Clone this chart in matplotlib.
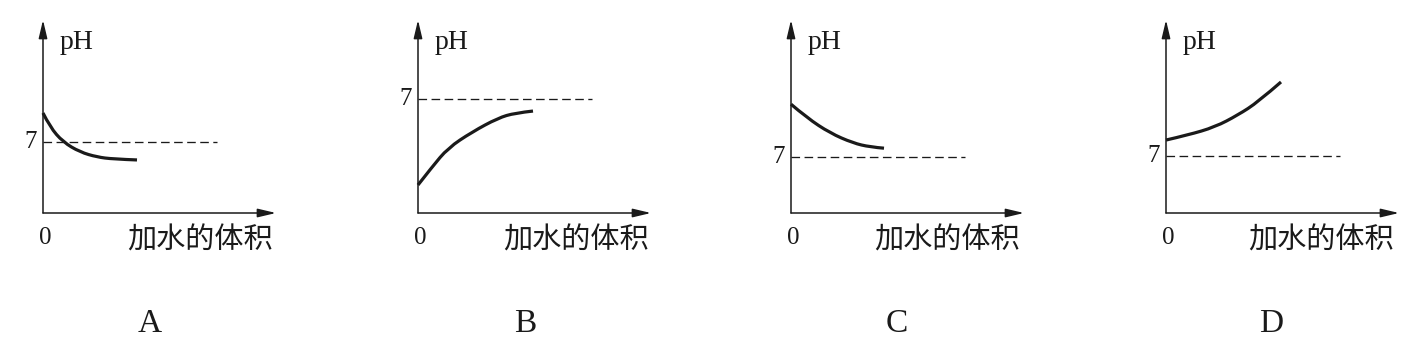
import matplotlib
matplotlib.use("Agg")
import matplotlib.pyplot as plt
from matplotlib.path import Path
from matplotlib.patches import PathPatch

# ---- data (volume of water added, pH) ----
panel_labels = ["A", "B", "C", "D"]
x_label = "加水的体积"
y_label = "pH"
neutral_ph = 7

vol_A = [0, 0.7, 2.0, 3.7, 5.4, 7.0, 9.4]
ph_A = [9.86, 8.48, 7.0, 6.01, 5.52, 5.32, 5.23]

vol_B = [0, 1.4, 3.0, 5.4, 8.0, 9.7, 11.5]
ph_B = [1.72, 2.82, 3.99, 4.97, 5.83, 6.14, 6.26]

vol_C = [0, 1.6, 3.9, 6.2, 7.9, 9.3]
ph_C = [13.6, 11.9, 10.0, 8.75, 8.25, 8.1]

vol_D = [0, 2.2, 4.9, 7.2, 9.2, 11.5]
ph_D = [8.96, 9.58, 10.56, 12.04, 13.63, 16.09]

dash_end = 17.4      # volume at which the dashed pH=7 line stops
x_axis_max = 23.3    # length of the horizontal axis (volume units)

# ---- layout ----
W, H = 1426, 343
fig = plt.figure(figsize=(W / 100, H / 100), dpi=100)
fig.patch.set_facecolor("white")

ink = "#1a1a1a"
serif = ["Liberation Serif", "DejaVu Serif"]
cjk = ["Noto Sans CJK SC", "DejaVu Sans"]

origins = [43, 418, 791, 1166]
axis_y = 213
axis_top = 20
seven_px = [71, 114, 56, 57]
letter_x = [150, 525, 897, 1271]
cjk_left = [127, 503, 874, 1248]

vols = [vol_A, vol_B, vol_C, vol_D]
phs = [ph_A, ph_B, ph_C, ph_D]

ax_w_px = 233
ax_h_px = axis_y - axis_top


def fx(x):
    return x / W


def fy(y):
    return 1 - y / H


def smooth_path(xs, ys):
    """Quadratic-Bezier path through the read points (library curve)."""
    pts = list(zip(xs, ys))
    verts = [pts[0]]
    codes = [Path.MOVETO]
    n = len(pts)
    for k in range(1, n - 1):
        ctrl = pts[k]
        if k < n - 2:
            end = ((pts[k][0] + pts[k + 1][0]) / 2, (pts[k][1] + pts[k + 1][1]) / 2)
        else:
            end = pts[k + 1]
        verts += [ctrl, end]
        codes += [Path.CURVE3, Path.CURVE3]
    return Path(verts, codes)


for i in range(4):
    ox = origins[i]
    ax = fig.add_axes([fx(ox), fy(axis_y), ax_w_px / W, ax_h_px / H])
    ax.axis("off")
    ytop = ax_h_px * neutral_ph / seven_px[i]
    ax.set_xlim(0, x_axis_max)
    ax.set_ylim(0, ytop)

    arrow = dict(arrowstyle="-|>,head_length=1.1,head_width=0.26",
                 mutation_scale=10, lw=1.1, color=ink,
                 shrinkA=0, shrinkB=0)
    ax.annotate("", xy=(x_axis_max, 0), xytext=(0, 0),
                arrowprops=arrow, annotation_clip=False)
    ax.annotate("", xy=(0, ytop), xytext=(0, 0),
                arrowprops=arrow, annotation_clip=False)

    ax.plot([0, dash_end], [neutral_ph, neutral_ph], color=ink, lw=0.95,
            linestyle=(0, (6.5, 3.4)), clip_on=False)
    ax.add_patch(PathPatch(smooth_path(vols[i], phs[i]), facecolor="none",
                           edgecolor=ink, lw=2.3, capstyle="butt",
                           clip_on=False))

    # texts
    y7 = axis_y - seven_px[i]
    fig.text(fx(ox - 6), fy(y7), "7", family=serif, fontsize=18,
             ha="right", va="center", color=ink)
    fig.text(fx(ox + 17), fy(49), y_label, family=serif, fontsize=20,
             ha="left", va="baseline", color=ink)
    fig.text(fx(ox + 2), fy(238), "0", family=serif, fontsize=18,
             ha="center", va="center", color=ink)
    fig.text(fx(cjk_left[i]), fy(241), x_label, family=cjk, fontsize=21,
             ha="left", va="center", color=ink, fontweight="light")
    fig.text(fx(letter_x[i]), fy(324), panel_labels[i], family=serif,
             fontsize=24, ha="center", va="center", color=ink)

fig.savefig("out.png", dpi=100, facecolor="white")
